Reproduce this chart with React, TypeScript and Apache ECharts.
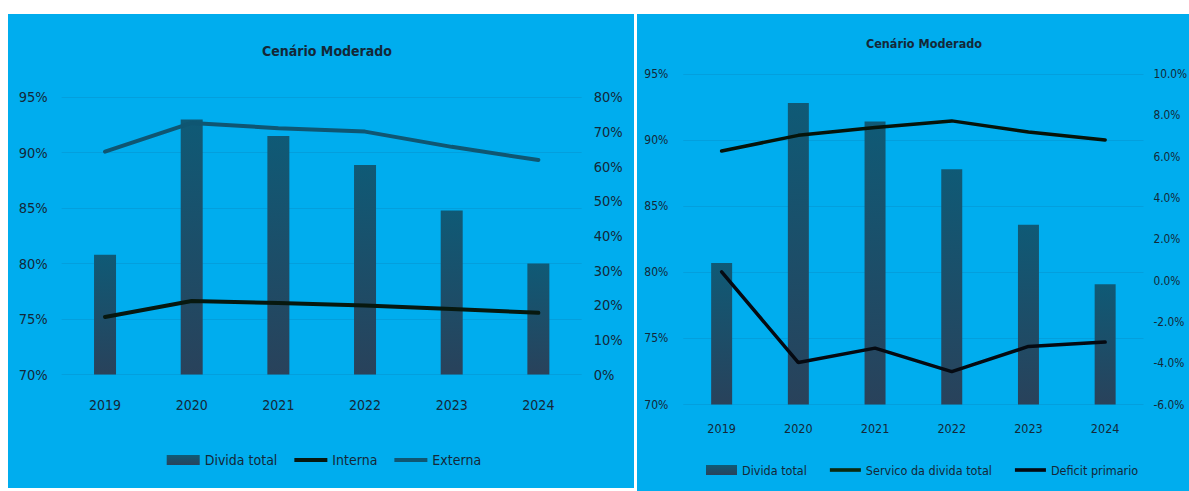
import React, { useEffect, useRef } from "react";
import * as echarts from "echarts";

const categories = ["2019", "2020", "2021", "2022", "2023", "2024"];
const leftDivida = [80.8, 93.0, 91.5, 88.9, 84.8, 80.0];
const interna = [16.6, 21.2, 20.6, 19.9, 18.9, 17.8];
const externa = [64.3, 72.6, 71.1, 70.1, 65.7, 61.9];
const rightDivida = [80.7, 92.8, 91.4, 87.8, 83.6, 79.1];
const servico = [6.27, 7.03, 7.41, 7.73, 7.19, 6.81];
const deficit = [0.42, -3.97, -3.27, -4.41, -3.19, -2.98];

const FONT = '"DejaVu Sans Condensed", "Liberation Sans Narrow", sans-serif';
const TEXT = "#142838";
const BLUE = "#00adee";
const GRID = "rgba(20,70,110,0.13)";
const LINE_ICON = "path://M0,0H34V4H0Z";

const barGrad = () =>
  new echarts.graphic.LinearGradient(0, 0, 0, 1, [
    { offset: 0, color: "#0f5a76" },
    { offset: 1, color: "#29425b" },
  ]);

export default function App() {
  const ref = useRef<HTMLDivElement>(null);
  useEffect(() => {
    if (!ref.current) return;
    const chart = echarts.init(ref.current, undefined, { renderer: "svg" });
    chart.setOption({
      animation: false,
      backgroundColor: "#ffffff",
      graphic: [
        { type: "rect", z: -10, shape: { x: 8, y: 14, width: 626, height: 474 }, style: { fill: BLUE } },
        { type: "rect", z: -10, shape: { x: 637, y: 14, width: 552, height: 477 }, style: { fill: BLUE } },
      ],
      title: [
        {
          text: "Cenário Moderado",
          left: 322,
          top: 39,
          textAlign: "center",
          textStyle: { fontFamily: FONT, fontSize: 14, fontWeight: "bold", color: TEXT },
        },
        {
          text: "Cenário Moderado",
          left: 919,
          top: 32,
          textAlign: "center",
          textStyle: { fontFamily: FONT, fontSize: 12.5, fontWeight: "bold", color: TEXT },
        },
      ],
      legend: [
        {
          left: 161.7,
          top: 448,
          itemWidth: 33,
          itemHeight: 10,
          itemGap: 17,
          textStyle: { fontFamily: FONT, fontSize: 14, color: TEXT },
          data: [
            { name: "Divida total", icon: "rect" },
            { name: "Interna", icon: LINE_ICON },
            { name: "Externa", icon: LINE_ICON },
          ],
        },
        {
          left: 701,
          top: 458.5,
          itemWidth: 31,
          itemHeight: 10,
          itemGap: 23,
          textStyle: { fontFamily: FONT, fontSize: 12.5, color: TEXT },
          data: [
            { name: "Divida total", icon: "rect" },
            { name: "Servico da divida total", icon: LINE_ICON },
            { name: "Deficit primario", icon: LINE_ICON },
          ],
        },
      ],
      grid: [
        { left: 61.7, top: 97.3, width: 520, height: 277.2, outerBoundsMode: "none" },
        { left: 683.3, top: 74, width: 460.2, height: 330.5, outerBoundsMode: "none" },
      ],
      xAxis: [
        {
          type: "category",
          gridIndex: 0,
          data: categories,
          axisLine: { show: false },
          axisTick: { show: false },
          axisLabel: { margin: 23, fontFamily: FONT, fontSize: 14, color: TEXT },
        },
        {
          type: "category",
          gridIndex: 1,
          data: categories,
          axisLine: { show: false },
          axisTick: { show: false },
          axisLabel: { margin: 17, fontFamily: FONT, fontSize: 12.5, color: TEXT },
        },
      ],
      yAxis: [
        {
          type: "value",
          gridIndex: 0,
          position: "left",
          min: 70,
          max: 95,
          interval: 5,
          axisLine: { show: false },
          axisTick: { show: false },
          splitLine: { show: true, lineStyle: { color: GRID, width: 1 } },
          axisLabel: { margin: 14, fontFamily: FONT, fontSize: 14.5, color: TEXT, formatter: "{value}%" },
        },
        {
          type: "value",
          gridIndex: 0,
          position: "right",
          min: 0,
          max: 80,
          interval: 10,
          axisLine: { show: false },
          axisTick: { show: false },
          splitLine: { show: false },
          axisLabel: { margin: 12, fontFamily: FONT, fontSize: 14.5, color: TEXT, formatter: "{value}%" },
        },
        {
          type: "value",
          gridIndex: 1,
          position: "left",
          min: 70,
          max: 95,
          interval: 5,
          axisLine: { show: false },
          axisTick: { show: false },
          splitLine: { show: true, lineStyle: { color: GRID, width: 1 } },
          axisLabel: { margin: 15, fontFamily: FONT, fontSize: 12, color: TEXT, formatter: "{value}%" },
        },
        {
          type: "value",
          gridIndex: 1,
          position: "right",
          min: -6,
          max: 10,
          interval: 2,
          axisLine: { show: false },
          axisTick: { show: false },
          splitLine: { show: false },
          axisLabel: {
            margin: 10,
            fontFamily: FONT,
            fontSize: 11.8,
            color: TEXT,
            formatter: (v: number) => v.toFixed(1) + "%",
          },
        },
      ],
      series: [
        {
          name: "Divida total",
          type: "bar",
          xAxisIndex: 0,
          yAxisIndex: 0,
          data: leftDivida,
          barWidth: 22,
          itemStyle: { color: barGrad() },
        },
        {
          name: "Interna",
          type: "line",
          xAxisIndex: 0,
          yAxisIndex: 1,
          data: interna,
          symbol: "none",
          lineStyle: { color: "#07180f", width: 4, cap: "round" },
          itemStyle: { color: "#07180f" },
        },
        {
          name: "Externa",
          type: "line",
          xAxisIndex: 0,
          yAxisIndex: 1,
          data: externa,
          symbol: "none",
          lineStyle: { color: "#0f5672", width: 4, cap: "round" },
          itemStyle: { color: "#0f5672" },
        },
        {
          name: "Divida total",
          type: "bar",
          xAxisIndex: 1,
          yAxisIndex: 2,
          data: rightDivida,
          barWidth: 21,
          itemStyle: { color: barGrad() },
        },
        {
          name: "Servico da divida total",
          type: "line",
          xAxisIndex: 1,
          yAxisIndex: 3,
          data: servico,
          symbol: "none",
          lineStyle: { color: "#06140a", width: 3.5, cap: "round" },
          itemStyle: { color: "#0b2a10" },
        },
        {
          name: "Deficit primario",
          type: "line",
          xAxisIndex: 1,
          yAxisIndex: 3,
          data: deficit,
          symbol: "none",
          lineStyle: { color: "#050a12", width: 3.5, cap: "round" },
          itemStyle: { color: "#050a12" },
        },
      ],
    });
    return () => chart.dispose();
  }, []);
  return (
    <div
      ref={ref}
      style={{ position: "fixed", left: 0, top: 0, width: 1189, height: 491, background: "#ffffff" }}
    />
  );
}
